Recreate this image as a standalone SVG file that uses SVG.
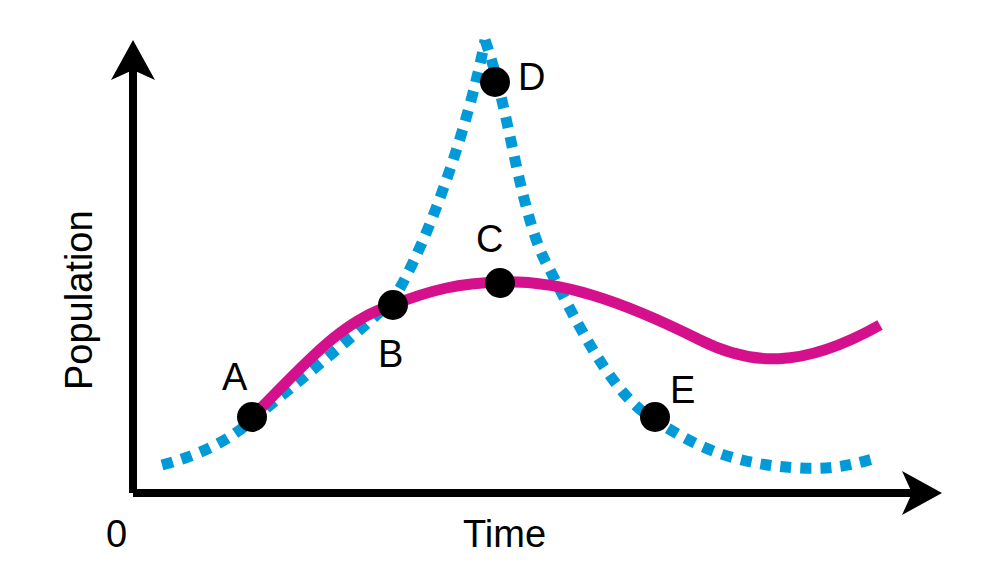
<svg xmlns="http://www.w3.org/2000/svg" width="994" height="580" viewBox="0 0 994 580">
<style>
text{font-family:"Liberation Sans",Arial,sans-serif;font-size:38px;fill:#000}
.dot{fill:#000}
</style>
<rect width="994" height="580" fill="#fff"/>
<g id="axes">
<path d="M133 493V62M133 493H918" stroke="#000" stroke-width="8" fill="none"/>
<polygon points="140,40 118,80 140,70 162,80" fill="#000" transform="translate(-7,0)"/>
<polygon points="942,493 902,471 912,493 902,515" fill="#000"/>
</g>
<g id="connectors">
<path d="M162 465C200 455 230 440 252 420C300 380 350 340 393 300C430 240 470 120 485 40" stroke="#009ad8" stroke-width="11" stroke-dasharray="11 9" fill="none"/>
<path d="M485 40C510 110 520 220 550 270C590 350 620 400 655 420C700 450 740 465 800 468C840 470 860 462 877 458" stroke="#009ad8" stroke-width="11" stroke-dasharray="11 9" fill="none"/>
<path d="M252 417C300 370 340 320 393 305C430 290 460 283 500 282C560 280 620 300 700 340C750 365 800 370 880 325" stroke="#d4108c" stroke-width="11" fill="none"/>
</g>
<g id="A"><circle class="dot" cx="252" cy="417" r="15"/><text x="222" y="390">A</text></g>
<g id="B"><circle class="dot" cx="393" cy="305" r="15"/><text x="378" y="367">B</text></g>
<g id="C"><circle class="dot" cx="500" cy="283" r="15"/><text x="476" y="252">C</text></g>
<g id="D"><circle class="dot" cx="495" cy="82" r="15"/><text x="518" y="90">D</text></g>
<g id="E"><circle class="dot" cx="655" cy="417" r="15"/><text x="670" y="403">E</text></g>
<text x="106" y="547">0</text>
<text x="463" y="547">Time</text>
<text transform="translate(92,390) rotate(-90)">Population</text>
</svg>
